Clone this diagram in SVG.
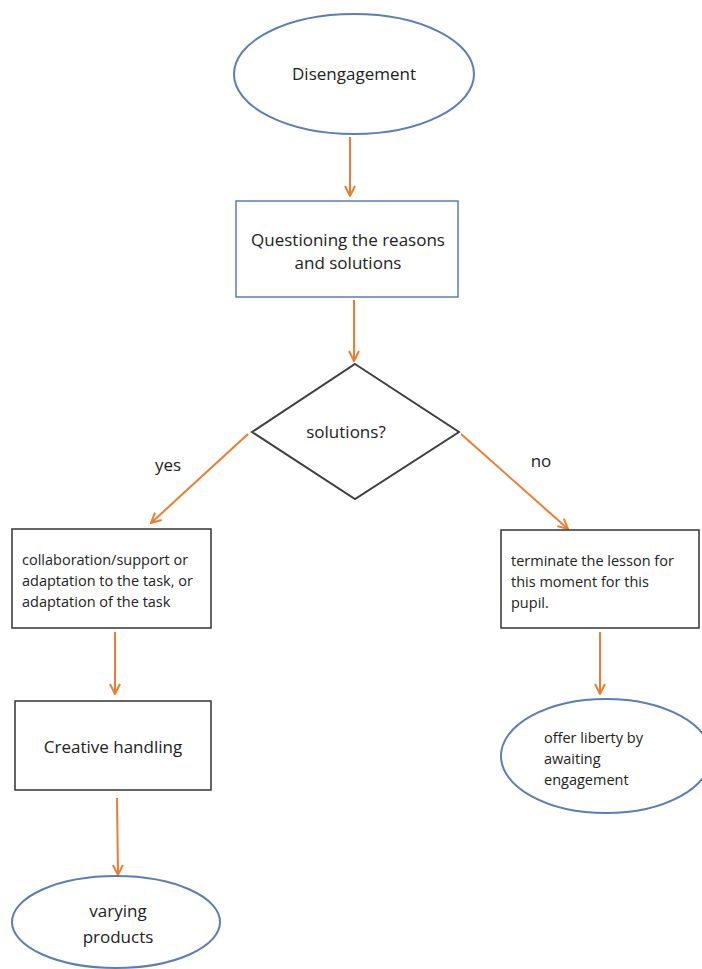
<svg xmlns="http://www.w3.org/2000/svg" width="702" height="969" viewBox="0 0 702 969">
<defs>
<marker id="arr" viewBox="0 0 12 12" refX="11" refY="6" markerWidth="12" markerHeight="12" markerUnits="userSpaceOnUse" orient="auto">
<path d="M1,1 L11,6 L1,11" fill="none" stroke="#ED7D31" stroke-width="2"/>
</marker>
<style>
.ell{fill:#fff;stroke:#5B7DB8;stroke-width:2}
.bbox{fill:#fff;stroke:#5B7DB8;stroke-width:1.5}
.kbox{fill:#fff;stroke:#333;stroke-width:1.5}
.dia{fill:#fff;stroke:#404040;stroke-width:2}
.c{stroke:#ED7D31;stroke-width:2;fill:none;marker-end:url(#arr)}
text{font-family:"Open Sans","Liberation Sans",sans-serif;fill:#222}
.big{font-size:17px}
.sm{font-size:14.5px}
.mid{text-anchor:middle}
</style>
</defs>
<rect width="702" height="969" fill="#fff"/>
<g id="connectors">
<path class="c" d="M350,137 L350,196"/>
<path class="c" d="M354,300 L354,361"/>
<path class="c" d="M248,434 L151,523"/>
<path class="c" d="M461,434 L568,529"/>
<path class="c" d="M115,632 L115,694"/>
<path class="c" d="M117,798 L118,875"/>
<path class="c" d="M600,632 L600,694"/>
<text class="big" x="168" y="471" text-anchor="middle">yes</text>
<text class="big" x="541" y="467" text-anchor="middle">no</text>
</g>
<g id="n1">
<ellipse class="ell" cx="354" cy="74" rx="120" ry="60"/>
<text class="big mid" x="354" y="80">Disengagement</text>
</g>
<g id="n2">
<rect class="bbox" x="236" y="201" width="222" height="96"/>
<text class="big mid" x="348" y="246">Questioning the reasons</text>
<text class="big mid" x="348" y="269">and solutions</text>
</g>
<g id="n3">
<polygon class="dia" points="355,364 459,432 355,499 252,432"/>
<text class="big mid" x="346" y="438">solutions?</text>
</g>
<g id="n4">
<rect class="kbox" x="12" y="529" width="199" height="99"/>
<text class="sm" x="22" y="565">collaboration/support or</text>
<text class="sm" x="22" y="586">adaptation to the task, or</text>
<text class="sm" x="22" y="607">adaptation of the task</text>
</g>
<g id="n5">
<rect class="kbox" x="501" y="530" width="198" height="98"/>
<text class="sm" x="511" y="566">terminate the lesson for</text>
<text class="sm" x="511" y="587">this moment for this</text>
<text class="sm" x="511" y="608">pupil.</text>
</g>
<g id="n6">
<rect class="kbox" x="15" y="701" width="196" height="89"/>
<text class="big mid" x="113" y="753">Creative handling</text>
</g>
<g id="n7">
<ellipse class="ell" cx="116" cy="922" rx="104" ry="46"/>
<text class="big mid" x="118" y="917">varying</text>
<text class="big mid" x="118" y="943">products</text>
</g>
<g id="n8">
<ellipse class="ell" cx="606" cy="756" rx="105" ry="57"/>
<text class="sm" x="544" y="743">offer liberty by</text>
<text class="sm" x="544" y="764">awaiting</text>
<text class="sm" x="544" y="785">engagement</text>
</g>
</svg>
